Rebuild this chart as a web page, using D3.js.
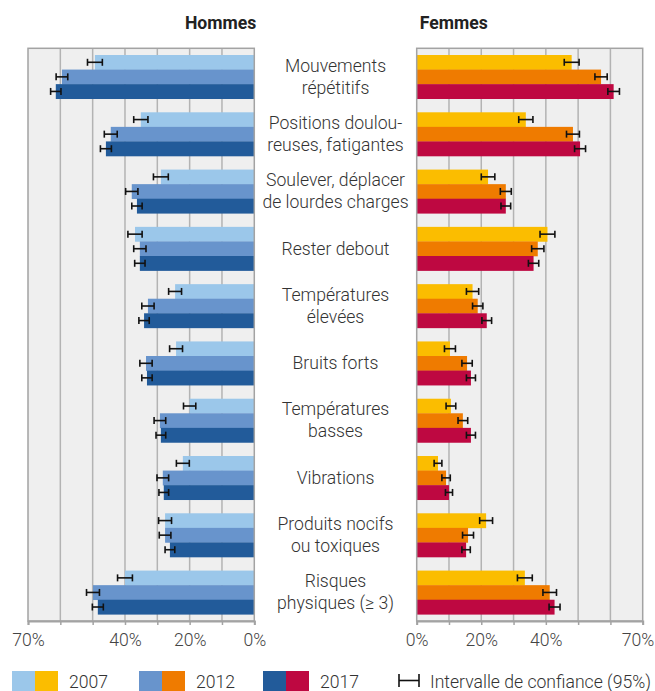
<!DOCTYPE html>
<html><head><meta charset="utf-8">
<script src="https://cdn.jsdelivr.net/npm/d3@7"></script>
<style>
html,body{margin:0;padding:0;background:#fff;}
text{font-family:Roboto,"Noto Sans",sans-serif;}
</style></head>
<body><svg id="c" width="655" height="691"></svg>
<script>
const categories = [
  ["Mouvements","répétitifs"],
  ["Positions doulou-","reuses, fatigantes"],
  ["Soulever, déplacer","de lourdes charges"],
  ["Rester debout"],
  ["Températures","élevées"],
  ["Bruits forts"],
  ["Températures","basses"],
  ["Vibrations"],
  ["Produits nocifs","ou toxiques"],
  ["Risques","physiques (≥ 3)"]
];
const years = ["2007","2012","2017"];

const men2007 = [49.3,35.1,28.9,36.9,24.5,24.2,20.0,22.1,27.6,40.0];
const men2012 = [59.5,44.4,37.9,35.4,32.9,33.5,29.2,28.3,27.6,49.9];
const men2017 = [61.4,45.9,36.3,35.4,34.1,33.2,28.9,28.0,26.1,48.4];
const menCI2007 = [2.3,2.2,2.3,2.2,2.0,2.0,1.9,2.0,2.0,2.3];
const menCI2012 = [1.8,2.0,1.9,1.9,1.9,1.9,1.8,1.8,1.8,2.0];
const menCI2017 = [1.6,1.7,1.6,1.6,1.6,1.6,1.5,1.5,1.5,1.7];

const women2007 = [48.0,33.8,22.1,40.5,17.3,10.3,10.6,6.6,21.5,33.5];
const women2012 = [57.1,48.4,27.6,37.5,18.9,15.6,14.3,9.1,15.9,41.2];
const women2017 = [61.0,50.6,27.6,36.2,21.7,16.8,16.8,10.0,15.3,42.7];
const womenCI2007 = [2.3,2.2,2.1,2.3,1.9,1.7,1.5,1.2,2.0,2.3];
const womenCI2012 = [1.9,2.0,1.7,1.9,1.6,1.6,1.5,1.3,1.7,2.1];
const womenCI2017 = [1.8,1.7,1.5,1.6,1.5,1.4,1.4,1.1,1.3,1.7];

const gridValues = [0,10,20,30,40,50,60,70];
const tickLabelValues = [0,20,40,70];

const menColors = ["#9bc7ea","#6894cc","#225b9a"];
const womenColors = ["#fbbd00","#ef7b00","#be0841"];

const FS = 17.6;
const svg = d3.select("#c");
const plotTop = 48.3, plotBottom = 621;
const y = d3.scaleBand().domain(d3.range(categories.length)).range([plotTop,plotBottom])
  .paddingInner(0.237).paddingOuter(0.117);
const yy = d3.scaleBand().domain(years).range([0,y.bandwidth()]).padding(0);

const xL = d3.scaleLinear().domain([0,70]).range([254.3,28]);
const xR = d3.scaleLinear().domain([0,70]).range([416.7,642.7]);

function panel(x, series, cis, colors, title, isLeft){
  const x0 = Math.min(x.range()[0],x.range()[1]), x1 = Math.max(x.range()[0],x.range()[1]);
  const g = svg.append("g");
  g.append("rect").attr("x",x0).attr("y",plotTop).attr("width",x1-x0).attr("height",plotBottom-plotTop)
    .attr("fill","#efefef");
  g.selectAll("line.grid").data(gridValues.filter(v=>v>0&&v<70)).enter().append("line")
    .attr("x1",d=>x(d)).attr("x2",d=>x(d)).attr("y1",plotTop).attr("y2",plotBottom)
    .attr("stroke","#b3b3b3").attr("stroke-width",1.5);
  series.forEach((vals,si)=>{
    g.selectAll(null).data(vals).enter().append("rect")
      .attr("x",d=>Math.min(x(0),x(d)))
      .attr("width",d=>Math.abs(x(d)-x(0)))
      .attr("y",(d,i)=>y(i)+yy(years[si]))
      .attr("height",yy.bandwidth()+0.3)
      .attr("fill",colors[si]);
  });
  g.append("rect").attr("x",x0).attr("y",plotTop).attr("width",x1-x0).attr("height",plotBottom-plotTop)
    .attr("fill","none").attr("stroke","#a3a3a3").attr("stroke-width",1.5);
  series.forEach((vals,si)=>{
    vals.forEach((v,i)=>{
      const cy = y(i)+yy(years[si])+yy.bandwidth()/2;
      const a = x(v-cis[si][i]), b = x(v+cis[si][i]);
      const eg = g.append("g").attr("stroke","#111").attr("stroke-width",1.6);
      eg.append("line").attr("x1",a).attr("x2",b).attr("y1",cy).attr("y2",cy);
      eg.append("line").attr("x1",a).attr("x2",a).attr("y1",cy-3.5).attr("y2",cy+3.5);
      eg.append("line").attr("x1",b).attr("x2",b).attr("y1",cy-3.5).attr("y2",cy+3.5);
    });
  });
  const ax = d3.axisBottom(x).tickValues(gridValues).tickSize(4)
    .tickFormat(d=>tickLabelValues.includes(d)?d+"%":"");
  const ag = g.append("g").attr("transform",`translate(0,${plotBottom})`).call(ax);
  ag.select(".domain").attr("stroke","#a3a3a3").attr("stroke-width",2);
  ag.selectAll(".tick line").attr("stroke","#a3a3a3").attr("stroke-width",1.5);
  ag.selectAll(".tick text").attr("y",13).attr("dy","0.71em")
    .attr("font-size",FS).attr("font-weight",300).attr("fill","#444")
    .style("font-family","Roboto, sans-serif");
  if(!isLeft){
    ag.selectAll(".tick text").filter(d=>d===70).attr("text-anchor","end").attr("x",11);
  }
  svg.append("text").attr("x",isLeft?x1+2:x0+3).attr("y",29)
    .attr("text-anchor",isLeft?"end":"start")
    .attr("font-size",FS).attr("font-weight",700).attr("fill","#222").text(title);
}

panel(xL,[men2007,men2012,men2017],[menCI2007,menCI2012,menCI2017],menColors,"Hommes",true);
panel(xR,[women2007,women2012,women2017],[womenCI2007,womenCI2012,womenCI2017],womenColors,"Femmes",false);

const lh = 22;
categories.forEach((lines,i)=>{
  const cy = y(i)+y.bandwidth()/2;
  const t = svg.append("text").attr("x",335.5).attr("text-anchor","middle")
    .attr("font-size",FS).attr("font-weight",300).attr("fill","#333");
  lines.forEach((ln,k)=>{
    t.append("tspan").attr("x",335.5)
      .attr("y",cy+5.8+(k-(lines.length-1)/2)*lh).text(ln);
  });
});

const lg = svg.append("g");
const legX = [12,139,263];
years.forEach((yr,i)=>{
  lg.append("rect").attr("x",legX[i]).attr("y",671).attr("width",23).attr("height",20).attr("fill",menColors[i]);
  lg.append("rect").attr("x",legX[i]+23).attr("y",671).attr("width",23).attr("height",20).attr("fill",womenColors[i]);
  lg.append("text").attr("x",legX[i]+57).attr("y",688).attr("font-size",FS)
    .attr("font-weight",300).attr("fill","#333").text(yr);
});
const ci = lg.append("g").attr("stroke","#111").attr("stroke-width",1.6);
ci.append("line").attr("x1",399).attr("x2",419).attr("y1",680.5).attr("y2",680.5);
ci.append("line").attr("x1",399).attr("x2",399).attr("y1",674).attr("y2",687);
ci.append("line").attr("x1",419).attr("x2",419).attr("y1",674).attr("y2",687);
lg.append("text").attr("x",430).attr("y",688).attr("font-size",FS)
  .attr("font-weight",300).attr("fill","#333").text("Intervalle de confiance (95%)");
</script></body></html>
